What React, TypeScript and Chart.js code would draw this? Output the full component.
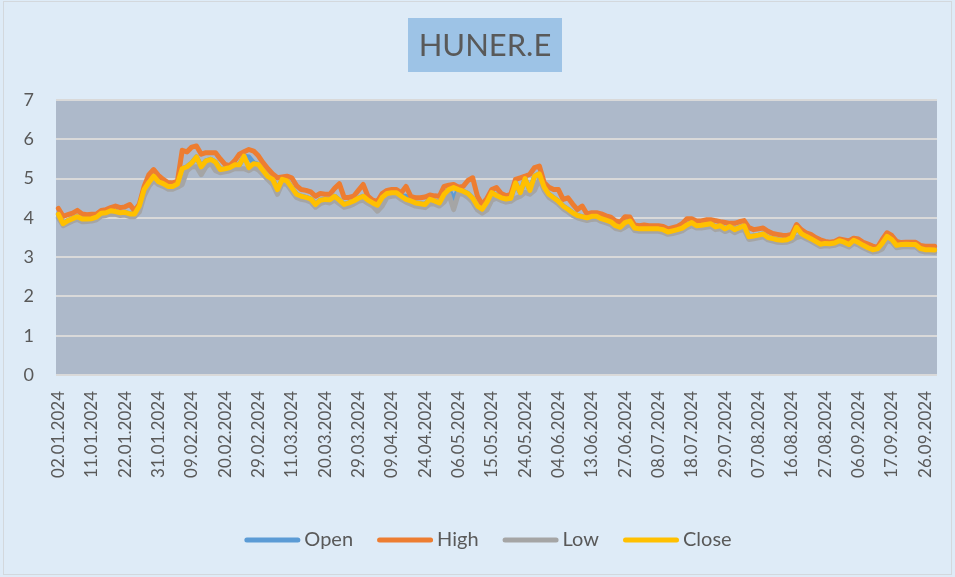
import { useEffect, useRef } from "react";
import { Chart, registerables } from "chart.js";

Chart.register(...registerables);

const dates = [
  "02.01.2024","03.01.2024","04.01.2024","05.01.2024","08.01.2024","09.01.2024","10.01.2024","11.01.2024","12.01.2024","15.01.2024",
  "16.01.2024","17.01.2024","18.01.2024","19.01.2024","22.01.2024","23.01.2024","24.01.2024","25.01.2024","26.01.2024","29.01.2024",
  "30.01.2024","31.01.2024","01.02.2024","02.02.2024","05.02.2024","06.02.2024","07.02.2024","08.02.2024","09.02.2024","12.02.2024",
  "13.02.2024","14.02.2024","15.02.2024","16.02.2024","19.02.2024","20.02.2024","21.02.2024","22.02.2024","23.02.2024","26.02.2024",
  "27.02.2024","28.02.2024","29.02.2024","01.03.2024","04.03.2024","05.03.2024","06.03.2024","07.03.2024","08.03.2024","11.03.2024",
  "12.03.2024","13.03.2024","14.03.2024","15.03.2024","18.03.2024","19.03.2024","20.03.2024","21.03.2024","22.03.2024","25.03.2024",
  "26.03.2024","27.03.2024","28.03.2024","29.03.2024","01.04.2024","02.04.2024","03.04.2024","04.04.2024","05.04.2024","08.04.2024",
  "09.04.2024","15.04.2024","16.04.2024","17.04.2024","18.04.2024","19.04.2024","22.04.2024","24.04.2024","25.04.2024","26.04.2024",
  "29.04.2024","30.04.2024","02.05.2024","03.05.2024","06.05.2024","07.05.2024","08.05.2024","09.05.2024","10.05.2024","13.05.2024",
  "14.05.2024","15.05.2024","16.05.2024","17.05.2024","20.05.2024","21.05.2024","22.05.2024","23.05.2024","24.05.2024","27.05.2024",
  "28.05.2024","29.05.2024","30.05.2024","31.05.2024","03.06.2024","04.06.2024","05.06.2024","06.06.2024","07.06.2024","10.06.2024",
  "11.06.2024","12.06.2024","13.06.2024","14.06.2024","20.06.2024","21.06.2024","24.06.2024","25.06.2024","26.06.2024","27.06.2024",
  "28.06.2024","01.07.2024","02.07.2024","03.07.2024","04.07.2024","05.07.2024","08.07.2024","09.07.2024","10.07.2024","11.07.2024",
  "12.07.2024","16.07.2024","17.07.2024","18.07.2024","19.07.2024","22.07.2024","23.07.2024","24.07.2024","25.07.2024","26.07.2024",
  "29.07.2024","30.07.2024","31.07.2024","01.08.2024","02.08.2024","05.08.2024","06.08.2024","07.08.2024","08.08.2024","09.08.2024",
  "12.08.2024","13.08.2024","14.08.2024","15.08.2024","16.08.2024","19.08.2024","20.08.2024","21.08.2024","22.08.2024","23.08.2024",
  "26.08.2024","27.08.2024","28.08.2024","29.08.2024","02.09.2024","03.09.2024","04.09.2024","05.09.2024","06.09.2024","09.09.2024",
  "10.09.2024","11.09.2024","12.09.2024","13.09.2024","16.09.2024","17.09.2024","18.09.2024","19.09.2024","20.09.2024","23.09.2024",
  "24.09.2024","25.09.2024","26.09.2024","27.09.2024","30.09.2024"
];

const openValues = [
  4.09,3.85,3.93,3.98,4.03,3.97,3.97,3.98,4.02,4.12,
  4.13,4.18,4.16,4.13,4.14,4.10,4.10,4.30,4.72,4.90,
  5.06,4.92,4.87,4.80,4.80,4.86,5.25,5.30,5.40,5.55,
  5.30,5.45,5.49,5.42,5.23,5.25,5.28,5.35,5.35,5.57,
  5.55,5.40,5.36,5.20,5.05,4.98,4.72,4.98,4.94,4.77,
  4.60,4.55,4.52,4.48,4.34,4.45,4.47,4.46,4.55,4.45,
  4.34,4.38,4.43,4.50,4.55,4.45,4.38,4.32,4.52,4.62,
  4.64,4.64,4.55,4.55,4.43,4.38,4.36,4.34,4.47,4.43,
  4.38,4.60,4.72,4.47,4.72,4.68,4.62,4.50,4.30,4.22,
  4.40,4.64,4.57,4.51,4.48,4.50,4.89,4.64,5.00,4.70,
  5.06,5.12,4.78,4.60,4.51,4.42,4.30,4.22,4.13,4.06,
  4.03,4.00,4.04,4.04,3.98,3.94,3.90,3.80,3.76,3.88,
  3.92,3.74,3.72,3.72,3.72,3.72,3.72,3.70,3.64,3.67,
  3.70,3.74,3.82,3.88,3.80,3.81,3.83,3.85,3.77,3.80,
  3.72,3.78,3.70,3.75,3.80,3.52,3.54,3.56,3.59,3.50,
  3.47,3.44,3.43,3.44,3.50,3.76,3.60,3.53,3.47,3.40,
  3.33,3.35,3.34,3.36,3.42,3.38,3.32,3.43,3.37,3.30,
  3.24,3.19,3.21,3.35,3.53,3.45,3.30,3.32,3.33,3.32,
  3.32,3.22,3.19,3.19,3.18
];

const highValues = [
  4.24,4.04,4.08,4.12,4.19,4.10,4.08,4.09,4.10,4.19,
  4.21,4.26,4.30,4.26,4.28,4.34,4.18,4.35,4.80,5.10,
  5.23,5.08,4.98,4.90,4.89,4.93,5.72,5.68,5.80,5.83,
  5.62,5.66,5.66,5.66,5.50,5.36,5.33,5.45,5.62,5.68,
  5.74,5.70,5.58,5.40,5.25,5.12,5.02,5.04,5.06,5.02,
  4.82,4.72,4.70,4.66,4.55,4.62,4.60,4.60,4.75,4.87,
  4.52,4.52,4.55,4.70,4.85,4.55,4.45,4.42,4.62,4.70,
  4.72,4.72,4.64,4.80,4.55,4.51,4.51,4.53,4.58,4.56,
  4.55,4.80,4.83,4.85,4.78,4.80,4.95,5.02,4.55,4.34,
  4.50,4.72,4.77,4.62,4.56,4.60,4.98,5.02,5.06,5.11,
  5.28,5.32,4.90,4.78,4.72,4.72,4.47,4.51,4.35,4.21,
  4.30,4.10,4.13,4.13,4.10,4.05,4.02,3.92,3.89,4.03,
  4.02,3.82,3.80,3.82,3.80,3.80,3.80,3.78,3.72,3.75,
  3.78,3.85,3.98,3.98,3.92,3.92,3.95,3.95,3.93,3.90,
  3.88,3.86,3.86,3.90,3.93,3.75,3.70,3.72,3.74,3.66,
  3.60,3.58,3.56,3.55,3.58,3.83,3.70,3.62,3.58,3.50,
  3.44,3.40,3.38,3.40,3.46,3.44,3.41,3.48,3.46,3.38,
  3.33,3.28,3.25,3.45,3.62,3.55,3.40,3.37,3.38,3.38,
  3.38,3.30,3.28,3.28,3.28
];

const lowValues = [
  4.00,3.80,3.86,3.92,3.96,3.90,3.91,3.92,3.95,4.04,
  4.06,4.10,4.09,4.06,4.07,4.03,4.03,4.15,4.55,4.80,
  4.95,4.85,4.80,4.73,4.73,4.78,4.85,5.20,5.30,5.30,
  5.10,5.30,5.40,5.20,5.15,5.17,5.20,5.25,5.25,5.25,
  5.20,5.28,5.22,5.10,4.97,4.85,4.60,4.88,4.85,4.68,
  4.52,4.47,4.45,4.40,4.27,4.36,4.40,4.38,4.45,4.36,
  4.27,4.30,4.35,4.42,4.45,4.37,4.30,4.17,4.30,4.52,
  4.55,4.56,4.47,4.40,4.35,4.30,4.28,4.26,4.35,4.35,
  4.30,4.40,4.60,4.21,4.62,4.60,4.52,4.40,4.20,4.12,
  4.20,4.45,4.50,4.44,4.40,4.42,4.50,4.55,4.65,4.60,
  4.70,4.98,4.70,4.52,4.44,4.35,4.23,4.15,4.06,4.00,
  3.96,3.93,3.96,3.97,3.91,3.87,3.83,3.73,3.70,3.76,
  3.84,3.68,3.66,3.66,3.66,3.66,3.66,3.63,3.58,3.60,
  3.63,3.67,3.75,3.80,3.74,3.74,3.76,3.78,3.70,3.72,
  3.65,3.70,3.62,3.68,3.70,3.45,3.47,3.49,3.52,3.44,
  3.41,3.38,3.37,3.38,3.42,3.50,3.53,3.47,3.41,3.34,
  3.27,3.29,3.28,3.30,3.35,3.31,3.26,3.35,3.31,3.24,
  3.18,3.13,3.15,3.21,3.42,3.38,3.24,3.26,3.27,3.26,
  3.26,3.16,3.13,3.13,3.12
];

const closeValues = [
  4.09,3.85,3.93,3.98,4.03,3.97,3.97,3.98,4.02,4.12,
  4.13,4.18,4.16,4.13,4.14,4.10,4.10,4.30,4.72,4.90,
  5.06,4.92,4.87,4.80,4.80,4.86,5.25,5.30,5.40,5.55,
  5.30,5.45,5.49,5.42,5.23,5.25,5.28,5.35,5.35,5.57,
  5.28,5.38,5.36,5.20,5.05,4.98,4.72,4.98,4.94,4.77,
  4.60,4.55,4.52,4.48,4.34,4.45,4.47,4.46,4.55,4.45,
  4.34,4.38,4.43,4.50,4.55,4.45,4.38,4.32,4.52,4.62,
  4.64,4.64,4.55,4.47,4.43,4.38,4.36,4.34,4.47,4.43,
  4.38,4.60,4.72,4.77,4.72,4.68,4.62,4.50,4.30,4.22,
  4.40,4.64,4.57,4.51,4.48,4.50,4.89,4.64,5.00,4.70,
  5.06,5.12,4.78,4.60,4.51,4.42,4.30,4.22,4.13,4.06,
  4.03,4.00,4.04,4.04,3.98,3.94,3.90,3.80,3.76,3.88,
  3.92,3.74,3.72,3.72,3.72,3.72,3.72,3.70,3.64,3.67,
  3.70,3.74,3.82,3.88,3.80,3.81,3.83,3.85,3.77,3.80,
  3.72,3.78,3.70,3.75,3.80,3.52,3.54,3.56,3.59,3.50,
  3.47,3.44,3.43,3.44,3.50,3.76,3.60,3.53,3.47,3.40,
  3.33,3.35,3.34,3.36,3.42,3.38,3.32,3.43,3.37,3.30,
  3.24,3.19,3.21,3.35,3.53,3.45,3.30,3.32,3.33,3.32,
  3.32,3.22,3.19,3.19,3.18
];

const seriesNames = ["Open", "High", "Low", "Close"];
const seriesColors = ["#5B9BD5", "#ED7D31", "#A5A5A5", "#FFC000"];
const chartTitle = "HUNER.E";
const labelEvery = 7;

const TEXT = "#595959";

export default function App() {
  const ref = useRef<HTMLCanvasElement>(null);

  useEffect(() => {
    document.body.style.margin = "0";
    const canvas = ref.current;
    if (!canvas) return;

    const decor = {
      id: "decor",
      beforeDraw(chart: any) {
        const { ctx, chartArea: a } = chart;
        ctx.save();
        ctx.strokeStyle = "#D3D8DD";
        ctx.lineWidth = 1;
        ctx.strokeRect(3.5, 1.5, 948, 573);
        ctx.fillStyle = "#ADB9CA";
        ctx.fillRect(a.left, a.top, a.right - a.left, a.bottom - a.top);
        ctx.fillStyle = "#9DC3E6";
        ctx.fillRect(408, 18, 154, 54);
        ctx.fillStyle = TEXT;
        ctx.font = "31px Lato";
        ctx.textAlign = "center";
        ctx.textBaseline = "middle";
        ctx.fillText(chartTitle, 485, 46);
        ctx.restore();
      },
      afterDraw(chart: any) {
        const { ctx } = chart;
        ctx.save();
        ctx.font = "20px Lato";
        const lineW = 56;
        const gap = 4;
        const spacing = 24;
        const ds = chart.data.datasets;
        const widths = ds.map((d: any) => lineW + gap + ctx.measureText(d.label).width);
        const total = widths.reduce((s: number, w: number) => s + w, 0) + spacing * (ds.length - 1);
        let x = 488 - total / 2;
        const y = 540;
        ds.forEach((d: any, i: number) => {
          ctx.strokeStyle = d.borderColor;
          ctx.lineWidth = 5;
          ctx.lineCap = "round";
          ctx.beginPath();
          ctx.moveTo(x + 2.5, y);
          ctx.lineTo(x + lineW - 2.5, y);
          ctx.stroke();
          ctx.fillStyle = TEXT;
          ctx.textAlign = "left";
          ctx.textBaseline = "middle";
          ctx.fillText(d.label, x + lineW + gap, y);
          x += widths[i] + spacing;
        });
        ctx.restore();
      },
    };

    const seriesData = [openValues, highValues, lowValues, closeValues];

    const chart = new Chart(canvas, {
      type: "line",
      data: {
        labels: dates,
        datasets: seriesNames.map((name, i) => ({
          label: name,
          data: seriesData[i],
          borderColor: seriesColors[i],
          backgroundColor: seriesColors[i],
          borderWidth: 5,
          pointRadius: 0,
          pointHoverRadius: 0,
          tension: 0,
          borderJoinStyle: "round" as const,
          borderCapStyle: "round" as const,
          order: seriesNames.length - 1 - i,
        })),
      },
      options: {
        responsive: false,
        animation: false,
        events: [],
        layout: { padding: { top: 100, right: 18, left: 0, bottom: 0 } },
        plugins: {
          legend: { display: false },
          title: { display: false },
          tooltip: { enabled: false },
        },
        scales: {
          x: {
            type: "category",
            offset: true,
            grid: { display: false, drawTicks: false },
            border: { display: false },
            ticks: {
              autoSkip: false,
              minRotation: 90,
              maxRotation: 90,
              padding: 16,
              color: TEXT,
              font: { family: "Lato", size: 17 },
              callback: function (this: any, value: any, index: number) {
                return index % labelEvery === 0 ? this.getLabelForValue(value) : "";
              },
            },
            afterFit(scale: any) {
              scale.height = 202;
              scale.paddingLeft = 0;
              scale.paddingRight = 0;
            },
          },
          y: {
            min: 0,
            max: 7,
            grid: { color: "#D9D9D9", lineWidth: 2, drawTicks: false },
            border: { display: false },
            ticks: {
              stepSize: 1,
              padding: 22,
              color: TEXT,
              font: { family: "Lato", size: 18 },
            },
            afterFit(scale: any) {
              scale.width = 56;
              scale.paddingTop = 0;
              scale.paddingBottom = 0;
            },
          },
        },
      },
      plugins: [decor],
    });

    return () => chart.destroy();
  }, []);

  return (
    <div style={{ width: 955, height: 577, background: "#DEEBF7", position: "relative" }}>
      <canvas ref={ref} width={955} height={577} style={{ display: "block", width: 955, height: 577 }} />
    </div>
  );
}
